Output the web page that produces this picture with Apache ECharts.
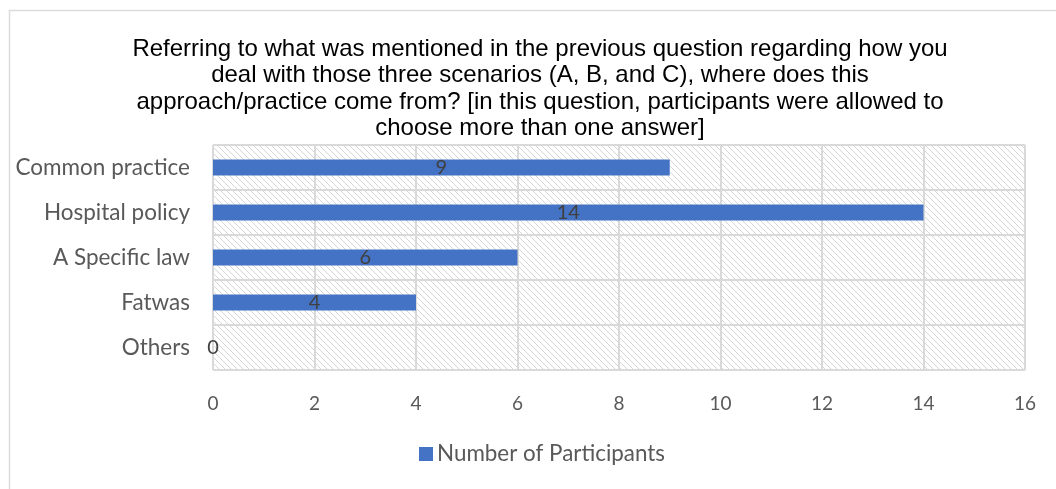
<!DOCTYPE html>
<html>
<head>
<meta charset="utf-8">
<script src="https://cdn.jsdelivr.net/npm/echarts@6/dist/echarts.min.js"></script>
<style>
  html, body { margin: 0; padding: 0; background: #fff; }
  #chart { width: 1056px; height: 489px; }
</style>
</head>
<body>
<div id="chart"></div>
<script>
// Sources of the approach/practice (multiple answers allowed)
const categories = ['Common practice', 'Hospital policy', 'A Specific law', 'Fatwas', 'Others'];
const participants = [9, 14, 6, 4, 0];
const seriesName = 'Number of Participants';
const titleText = 'Referring to what was mentioned in the previous question regarding how you\n' +
  'deal with those three scenarios (A, B, and C), where does this\n' +
  'approach/practice come from? [in this question, participants were allowed to\n' +
  'choose more than one answer]';

// light diagonal hatching for the plot background
function hatchPattern() {
  const s = 6;
  const c = document.createElement('canvas');
  c.width = s; c.height = s;
  const g = c.getContext('2d');
  g.fillStyle = '#ffffff';
  g.fillRect(0, 0, s, s);
  g.strokeStyle = '#d6d6d6';
  g.lineWidth = 1;
  g.beginPath();
  g.moveTo(-1, -1); g.lineTo(s + 1, s + 1);
  g.moveTo(-1, s - 1); g.lineTo(1, s + 1);
  g.moveTo(s - 1, -1); g.lineTo(s + 1, 1);
  g.stroke();
  return { image: c, repeat: 'repeat' };
}

const chart = echarts.init(document.getElementById('chart'), null, { renderer: 'canvas' });
const labelFont = 'Lato, "Open Sans", sans-serif';

chart.setOption({
  animation: false,
  backgroundColor: '#ffffff',
  graphic: [{
    type: 'rect',
    left: 7, top: 8,
    shape: { width: 1200, height: 600 },
    style: { fill: 'none', stroke: '#dcdcdc', lineWidth: 1.5 },
    silent: true
  }],
  title: {
    text: titleText,
    left: 535,
    textAlign: 'center',
    top: 31,
    textStyle: {
      fontFamily: '"Liberation Sans", Arial, sans-serif',
      fontSize: 24,
      fontWeight: 'normal',
      color: '#000000',
      lineHeight: 26.4,
      align: 'center'
    }
  },
  grid: {
    left: 213, right: 31, top: 145, bottom: 119,
    show: true,
    borderWidth: 0,
    backgroundColor: hatchPattern()
  },
  legend: {
    bottom: 19,
    left: 414,
    itemWidth: 14,
    itemHeight: 14,
    itemGap: 4,
    icon: 'rect',
    textStyle: { fontFamily: labelFont, fontSize: 22.4, color: '#595959', padding: [0, 0, 0, -1] },
    data: [seriesName]
  },
  xAxis: {
    type: 'value',
    min: 0, max: 16, interval: 2,
    axisLine: { show: false },
    axisTick: { show: false },
    axisLabel: { fontFamily: labelFont, fontSize: 19, color: '#595959', margin: 24 },
    splitLine: { show: true, lineStyle: { color: '#d9d9d9', width: 2 } }
  },
  yAxis: {
    type: 'category',
    data: categories,
    inverse: true,
    axisLine: { show: false },
    axisTick: { show: false },
    axisLabel: { fontFamily: labelFont, fontSize: 22.5, color: '#595959', margin: 23 },
    splitLine: { show: true, lineStyle: { color: '#d9d9d9', width: 2 } }
  },
  series: [{
    name: seriesName,
    type: 'bar',
    data: participants,
    barWidth: 16,
    itemStyle: { color: '#4472c4' },
    label: {
      show: true,
      position: 'inside',
      fontFamily: labelFont,
      fontSize: 20,
      color: '#404040'
    }
  }]
});
</script>
</body>
</html>
